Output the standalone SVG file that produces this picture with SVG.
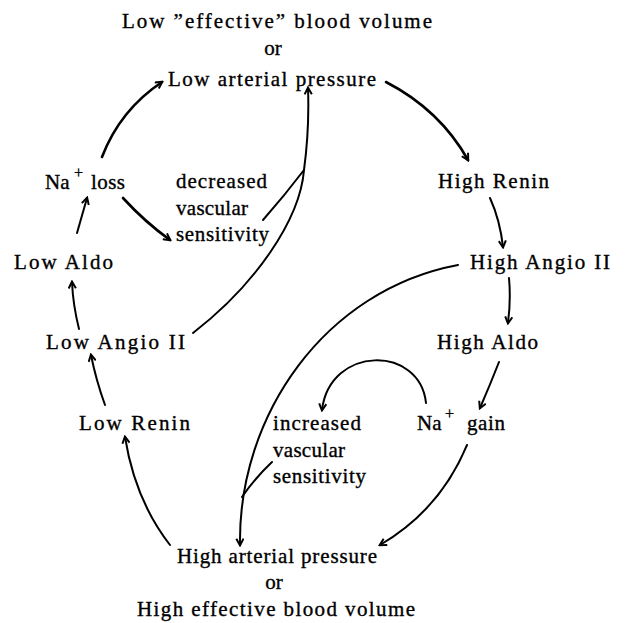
<svg xmlns="http://www.w3.org/2000/svg" width="626" height="623" viewBox="0 0 626 623">
<defs>
<style>
text{font-family:"Liberation Serif","Times New Roman",serif;font-size:21px;fill:#000;stroke:#000;stroke-width:0.35}
.sup{font-size:16px}
.c{fill:none;stroke:#000;stroke-width:2;stroke-linecap:round}
.t{stroke-width:2.6}
.a{marker-end:url(#ah)}
</style>
<marker id="ah" viewBox="0 0 10 10" refX="8" refY="5" markerWidth="9" markerHeight="9" markerUnits="userSpaceOnUse" orient="auto">
<path d="M1,1 L8.5,5 L1,9" fill="none" stroke="#000" stroke-width="2.2" stroke-linejoin="miter"/>
</marker>
</defs>
<rect width="626" height="623" fill="#fff"/>
<g id="low-volume">
<text x="122" y="28" textLength="310" lengthAdjust="spacing">Low ”effective” blood volume</text>
<text x="273" y="55" text-anchor="middle">or</text>
<text x="168" y="86" textLength="208" lengthAdjust="spacing">Low arterial pressure</text>
</g>
<g id="na-loss">
<text x="45" y="189">Na</text><text class="sup" x="74" y="178">+</text><text x="91" y="189" textLength="34" lengthAdjust="spacing">loss</text>
</g>
<g id="decreased-sens">
<text x="176" y="188" textLength="91" lengthAdjust="spacing">decreased</text>
<text x="176" y="215" textLength="72" lengthAdjust="spacing">vascular</text>
<text x="176" y="241" textLength="93" lengthAdjust="spacing">sensitivity</text>
</g>
<g id="high-renin"><text x="438" y="188" textLength="111" lengthAdjust="spacing">High Renin</text></g>
<g id="low-aldo"><text x="14" y="269" textLength="99" lengthAdjust="spacing">Low Aldo</text></g>
<g id="high-angio"><text x="470" y="269" textLength="140" lengthAdjust="spacing">High Angio II</text></g>
<g id="low-angio"><text x="46" y="349" textLength="139" lengthAdjust="spacing">Low Angio II</text></g>
<g id="high-aldo"><text x="437" y="349" textLength="101" lengthAdjust="spacing">High Aldo</text></g>
<g id="low-renin"><text x="79" y="430" textLength="111" lengthAdjust="spacing">Low Renin</text></g>
<g id="increased-sens">
<text x="273" y="430" textLength="88" lengthAdjust="spacing">increased</text>
<text x="273" y="457" textLength="72" lengthAdjust="spacing">vascular</text>
<text x="273" y="483" textLength="93" lengthAdjust="spacing">sensitivity</text>
</g>
<g id="na-gain">
<text x="417" y="430">Na</text><text class="sup" x="445" y="419">+</text><text x="467" y="430" textLength="38" lengthAdjust="spacing">gain</text>
</g>
<g id="high-pressure">
<text x="177" y="563" textLength="200" lengthAdjust="spacing">High arterial pressure</text>
<text x="274" y="589" text-anchor="middle">or</text>
<text x="137" y="616" textLength="278" lengthAdjust="spacing">High effective blood volume</text>
</g>
<g id="connectors">
<path class="c t a" d="M102,157 Q120,110 162,82"/>
<path class="c t a" d="M386,82 Q440,110 468,160"/>
<path class="c a" d="M490,198 Q500,220 503,247"/>
<path class="c a" d="M509,278 Q511,300 508,323"/>
<path class="c a" d="M499,362 Q490,385 480,408"/>
<path class="c a" d="M467,445 Q440,510 380,545"/>
<path class="c a" d="M426,403 C420,345 330,345 322,410"/>
<path class="c a" d="M458,265 C325,290 238,415 240,545"/>
<path class="c" d="M272,462 Q255,478 242,497"/>
<path class="c a" d="M193,333 C255,285 300,220 304,170 C308,140 309,115 308,88"/>
<path class="c" d="M263,220 Q285,195 304,170"/>
<path class="c t a" d="M123,198 Q145,222 170,240"/>
<path class="c a" d="M77,233 L87,198"/>
<path class="c a" d="M79,329 Q73,305 72,282"/>
<path class="c a" d="M105,405 Q96,380 91,355"/>
<path class="c a" d="M170,545 Q135,500 125,437"/>
</g>
</svg>
